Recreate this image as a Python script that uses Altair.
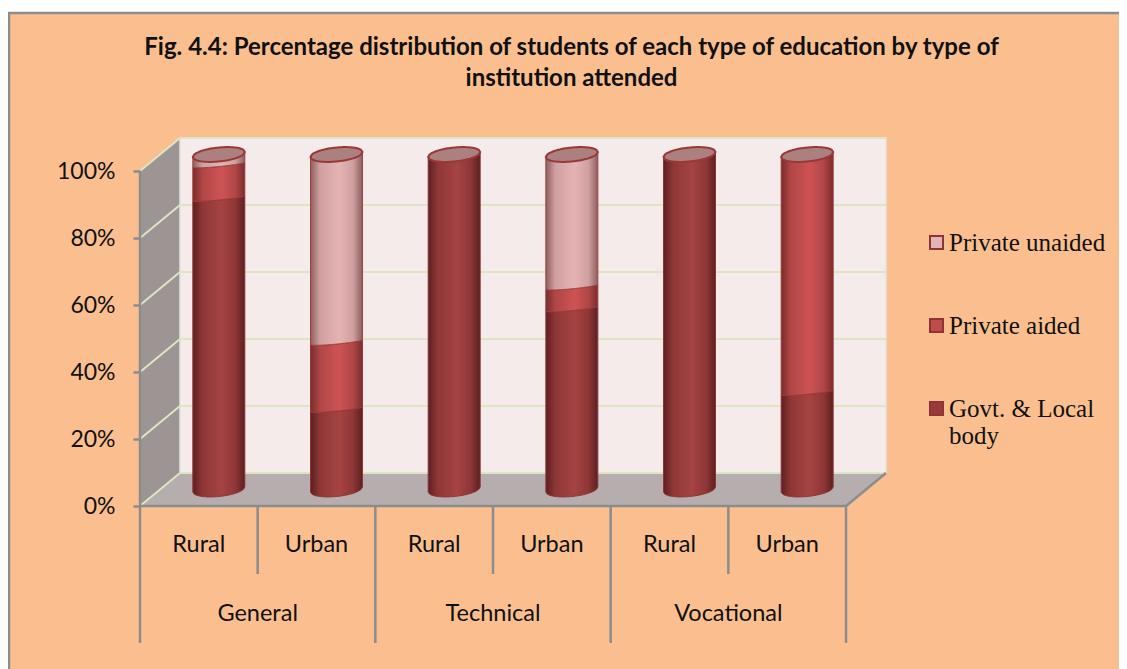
import math
import altair as alt
import pandas as pd

TITLE = ["Fig. 4.4: Percentage distribution of students of each type of education by type of",
         "institution attended"]
GROUPS = ["General", "Technical", "Vocational"]
SUBS = ["Rural", "Urban", "Rural", "Urban", "Rural", "Urban"]
SERIES = ["Govt. & Local body", "Private aided", "Private unaided"]
GOVT = [87, 24, 100, 54, 100, 29]
AIDED = [10, 20, 0, 6.5, 0, 71]
UNAIDED = [3, 56, 0, 39.5, 0, 0]
TICKS = [0, 20, 40, 60, 80, 100]

W, H = 1111, 661
PXU, PYU = 117.67, 3.35          # pixels per category, pixels per percent
X = lambda p: (p - 140) / PXU    # page pixel -> data unit (geometry helpers)
Y = lambda p: (506 - p) / 3.35
XS = alt.Scale(domain=[X(8), X(8 + W)], nice=False, zero=False)
YS = alt.Scale(domain=[Y(8 + H), Y(8)], nice=False, zero=False)
DX, DY = 40 / PXU, 33 / PYU      # depth of the box
ex = lambda f: alt.X(f, type="quantitative", scale=XS, axis=None)
ey = lambda f: alt.Y(f, type="quantitative", scale=YS, axis=None)
ORANGE, GRAY, GRID = "#FBBF8F", "#8C8C8C", "#DCE6C3"


def seg(d):
    return alt.Chart(pd.DataFrame(d))


frame = seg([dict(x=X(9), x2=X(1160), y=Y(13), y2=Y(700))]).mark_rect(
    fill=ORANGE, stroke=GRAY, strokeWidth=2.5
).encode(x=ex("x"), x2="x2", y=ey("y"), y2="y2")

wall = seg([dict(x=DX, x2=6 + DX, y=DY, y2=100 + DY)]).mark_rect(
    fill="#F5EBEB", stroke="#E4E4DC", strokeWidth=1.5
).encode(x=ex("x"), x2="x2", y=ey("y"), y2="y2")

left_wall = seg([dict(x=0, y=0, y2=100), dict(x=DX, y=DY, y2=100 + DY)]).mark_area(
    fill="#9C9594"
).encode(x=ex("x"), y=ey("y"), y2="y2")

floor = seg([dict(y=0, x=0, x2=6), dict(y=DY, x=DX, x2=6 + DX)]).mark_area(
    fill="#B6AEAE", orient="horizontal"
).encode(y=ey("y"), x=ex("x"), x2="x2")

grid_back = seg([dict(x=DX, x2=6 + DX, y=v + DY, y2=v + DY) for v in TICKS]).mark_rule(
    color=GRID, strokeWidth=2
).encode(x=ex("x"), x2="x2", y=ey("y"), y2="y2")
grid_left = seg([dict(x=0, x2=DX, y=v, y2=v + DY) for v in TICKS]).mark_rule(
    color=GRID, strokeWidth=2
).encode(x=ex("x"), x2="x2", y=ey("y"), y2="y2")

axis_lines = [dict(x=0, x2=6, y=0, y2=0), dict(x=0, x2=0, y=0, y2=100),
              dict(x=6, x2=6 + DX, y=0, y2=DY)]
for k in range(7):
    low = Y(643) if k % 2 == 0 else Y(574)
    axis_lines.append(dict(x=k, x2=k, y=0, y2=low))
axes_r = seg(axis_lines).mark_rule(color=GRAY, strokeWidth=2.5).encode(
    x=ex("x"), x2="x2", y=ey("y"), y2="y2")

y_axis = alt.Chart(pd.DataFrame({"v": TICKS})).mark_point(opacity=0).encode(
    x=alt.value(0),
    y=alt.Y("v:Q", scale=YS, axis=alt.Axis(
        values=TICKS, labelExpr="datum.value + '%'", offset=-132, domain=False, grid=False,
        title=None, tickColor=GRAY, tickWidth=2.5, tickSize=7, labelPadding=18, zindex=1,
        labelFont="Lato", labelFontSize=23, labelColor="#111111")),
)

BODY_OFF_X, BODY_OFF_Y = DX / 2, DY / 2
RX, RY, SEAM, TILT = 26 / PXU, 7 / PYU, 2 / PYU, 2.5 / PYU
STOPS = {
    SERIES[0]: ("#5C2020", "#8E3636", "#A64343"),
    SERIES[1]: ("#7A2C2C", "#B04646", "#CE5353"),
    SERIES[2]: ("#8E5E5E", "#CFA0A0", "#E6B3B3"),
}


def grad(c):
    stops = [(0, c[0]), (0.18, c[1]), (0.55, c[2]), (0.82, c[1]), (1, c[0])]
    return alt.Gradient(gradient="linear", x1=0, x2=1, y1=0, y2=0,
                        stops=[alt.GradientStop(color=s, offset=o) for o, s in stops])


T = [i / 20 - 1 for i in range(41)]
rows, caps = [], []
for i in range(6):
    base = 0
    for name, arr in zip(SERIES, [GOVT, AIDED, UNAIDED]):
        v = arr[i]
        if v <= 0:
            continue
        for t in T:
            bulge = math.sqrt(1 - t * t)
            low = -(RY if base == 0 else SEAM) * bulge + TILT * t
            high = -SEAM * bulge + TILT * t
            rows.append(dict(key=f"{i}-{name}", s=name,
                             x=i + 0.5 + BODY_OFF_X + RX * t,
                             y=base + BODY_OFF_Y + low,
                             y2=base + v + BODY_OFF_Y + high))
        base += v
    for t in T:
        b = math.sqrt(1 - t * t) * RY
        caps.append(dict(key=i, x=i + 0.5 + BODY_OFF_X + RX * t,
                         y=100 + BODY_OFF_Y + TILT * t - b,
                         y2=100 + BODY_OFF_Y + TILT * t + b))
rows = pd.DataFrame(rows)
STROKES = {SERIES[0]: "#8E3434", SERIES[1]: "#9A3A3A", SERIES[2]: "#A04040"}
cyl = [
    alt.Chart(rows[rows.s == name]).mark_area(
        fill=grad(STOPS[name]), stroke=STROKES[name], strokeWidth=1, interpolate="linear"
    ).encode(x=ex("x"), y=ey("y"), y2="y2", detail="key:N")
    for name in SERIES
]
cap = alt.Chart(pd.DataFrame(caps)).mark_area(
    fill="#AD8080", stroke="#983838", strokeWidth=2
).encode(x=ex("x"), y=ey("y"), y2="y2", detail="key:N")

sub_txt = alt.Chart(pd.DataFrame({"l": SUBS, "x": [i + 0.5 for i in range(6)], "y": Y(545)})).mark_text(
    font="Lato", fontSize=23.5, color="#111111", baseline="middle"
).encode(x=ex("x"), y=ey("y"), text="l:N")
grp_txt = alt.Chart(pd.DataFrame({"l": GROUPS, "x": [1, 3, 5], "y": Y(614)})).mark_text(
    font="Lato", fontSize=23.5, color="#111111", baseline="middle"
).encode(x=ex("x"), y=ey("y"), text="l:N")

legend_layer = alt.Chart(pd.DataFrame({"s": SERIES, "x": [3] * 3, "y": [50] * 3})).mark_square(
    opacity=0, size=1
).encode(
    x=ex("x"), y=ey("y"),
    fill=alt.Fill("s:N", scale=alt.Scale(domain=SERIES[::-1], range=["#E2B4B4", "#C04B4B", "#983A3A"]),
                  legend=alt.Legend(
                      orient="none", legendX=897, legendY=222, title=None,
                      symbolType="square", symbolSize=170, symbolOpacity=1, symbolOffset=19,
                      symbolStrokeColor="#8E3434", symbolStrokeWidth=2,
                      labelFont="Liberation Serif", labelFontSize=25, labelColor="#111111",
                      labelOffset=0, rowPadding=57, labelLimit=300,
                      labelExpr="datum.label == 'Govt. & Local body' ? ['Govt. & Local', 'body'] : datum.label",
                  )),
)

chart = alt.layer(
    frame, left_wall, wall, floor, grid_left, grid_back, y_axis, axes_r,
    *cyl, cap, sub_txt, grp_txt, legend_layer
).resolve_axis(y="independent").properties(
    width=W, height=H, padding=0, background="white",
    autosize=alt.AutoSizeParams(type="none"),
    title=alt.TitleParams(text=TITLE, anchor="middle", frame="group", offset=-83, dx=8,
                          font="Lato", fontSize=24, fontWeight="bold", color="#111111", lineHeight=31),
).configure_view(stroke=None)

chart.save("out.html", embed_options={"renderer": "svg", "actions": False})
